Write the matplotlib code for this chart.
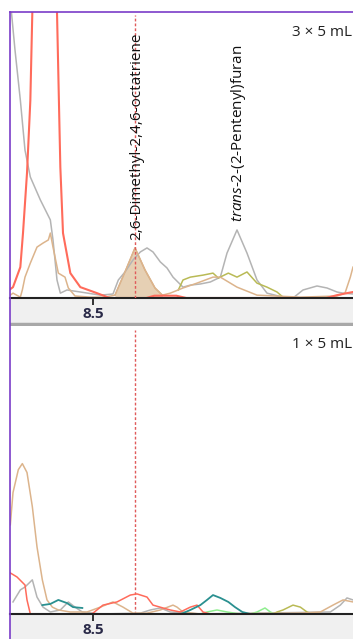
import numpy as np
import matplotlib
matplotlib.use("Agg")
import matplotlib.pyplot as plt
from matplotlib.lines import Line2D

nan = np.nan

# ---- top panel: 3 x 5 mL (retention time in min, relative abundance %) ----
top_red_t = [8.376, 8.380, 8.391, 8.395, 8.401, 8.406, 8.409, 8.420, 8.432, 8.440, 8.446, 8.451,
             8.455, 8.466, 8.481, 8.506, 8.525, 8.580, 8.592, 8.625, 8.640, 8.850, 8.866, 8.881, 8.890]
top_red_y = [3.1, 3.8, 10.8, 22.7, 43.7, 69.0, 100, 250, 300, 250, 100, 45.8,
             22.7, 8.7, 3.8, 1.7, 0.0, 0.0, 0.8, 0.8, 0.0, 0.0, 1.0, 1.7, 2.1]

top_gray_t = [8.376, 8.383, 8.391, 8.398, 8.406, 8.421, 8.436, 8.440, 8.446, 8.451, 8.461, 8.481,
              8.511, 8.530, 8.538, 8.548, 8.560, 8.571, 8.581, 8.590, 8.601, 8.611, 8.620, 8.635,
              8.646, 8.661, 8.676, 8.691, 8.701, 8.716, 8.731, 8.746, 8.761, 8.785, 8.800, 8.815,
              8.836, 8.851, 8.866, 8.875, 8.890]
top_gray_y = [104, 86.7, 69.2, 51.7, 42.3, 34.3, 27.3, 20.3, 6.3, 1.7, 2.8, 2.1,
              1.0, 1.4, 6.3, 9.1, 13.3, 16.1, 17.5, 16.1, 12.6, 10.5, 7.3, 3.8,
              4.5, 4.9, 5.6, 7.3, 15.7, 23.8, 15.7, 6.3, 1.7, 0.3, 0.0, 2.8,
              4.2, 3.5, 2.1, 1.7, 1.4]

top_tan_t = [8.376, 8.380, 8.391, 8.394, 8.398, 8.406, 8.416, 8.425, 8.433, 8.436, 8.440, 8.448,
             8.458, 8.463, 8.473, 8.496, 8.518, 8.533, 8.548, 8.563, 8.578, 8.593, 8.604, 8.616,
             8.635, 8.656, 8.680, 8.691, 8.716, 8.746, 8.811, 8.866, 8.878, 8.886, 8.890]
top_tan_y = [1.0, 1.7, 0.3, 2.8, 7.3, 12.2, 17.8, 19.2, 20.3, 22.7, 17.8, 8.7,
             7.3, 3.5, 0.7, 0.3, 0.3, 1.0, 9.1, 17.5, 9.8, 3.5, 1.0, 1.7,
             3.5, 5.2, 7.3, 7.3, 3.8, 1.0, 0.3, 0.7, 1.7, 7.3, 10.8]

top_olive_t = [8.628, 8.635, 8.646, 8.665, 8.680, 8.688, 8.703, 8.716, 8.731, 8.746, 8.761, 8.776, 8.785]
top_olive_y = [2.8, 6.3, 7.3, 8.0, 8.7, 7.0, 8.7, 7.3, 9.1, 5.2, 3.8, 2.1, 0.3]

# integrated peak window (min)
peak_start, peak_end = 8.533, 8.604

# ---- bottom panel: 1 x 5 mL ----
bot_tan_t = [8.376, 8.380, 8.388, 8.394, 8.401, 8.409, 8.416, 8.424, 8.431, 8.439, 8.448, 8.466,
             8.491, 8.511, 8.530, 8.545, 8.560, 8.581, 8.601, 8.620, 8.626, 8.635, 8.661, 8.811,
             8.841, 8.860, 8.875, 8.890]
bot_tan_y = [31.1, 42.3, 50.3, 52.4, 49.3, 37.4, 23.4, 11.9, 4.9, 2.4, 1.4, 0.7,
             0.7, 2.4, 4.2, 2.4, 0.3, 0.3, 1.4, 3.1, 2.4, 0.7, 0.0, 0.3,
             0.7, 3.1, 4.9, 4.2]

bot_red_t = [8.376, 8.386, 8.398, 8.401, 8.406, 8.496, 8.500, 8.515, 8.536, 8.556, 8.566, 8.581,
             8.590, 8.605, 8.616, 8.631, 8.646, 8.656, 8.665, 8.676, 8.890]
bot_red_y = [14.3, 12.9, 10.1, 4.9, 0.0, 0.0, 0.3, 3.1, 4.2, 6.6, 7.0, 5.9,
             3.1, 2.1, 1.4, 0.7, 2.4, 3.1, 0.7, 0.0, 0.0]

bot_gray_t = [8.380, 8.391, 8.398, 8.409, 8.416, 8.425, 8.436, 8.451, 8.463, 8.473, 8.484, 8.511,
              8.571, 8.586, 8.601, 8.616, 8.661, 8.856, 8.871, 8.881, 8.890]
bot_gray_y = [4.2, 8.4, 9.4, 11.9, 5.9, 2.4, 0.7, 1.4, 4.2, 2.4, 0.7, 0.0,
              0.3, 1.4, 2.1, 0.7, 0.0, 0.7, 3.1, 5.6, 4.9]

bot_teal_t = [8.424, 8.436, 8.448, 8.461, 8.470, 8.484, nan, 8.631, 8.635, 8.646, 8.661, 8.671,
              8.680, 8.691, 8.703, 8.713, 8.724, 8.736]
bot_teal_y = [3.1, 3.5, 4.9, 3.8, 2.4, 2.1, nan, 0.0, 0.3, 1.4, 3.1, 4.9,
              6.6, 5.6, 4.2, 2.4, 0.7, 0.0]

bot_green_t = [8.661, 8.671, 8.686, 8.701, 8.721, 8.736, 8.746, 8.758, 8.766, 8.773]
bot_green_y = [0.0, 0.7, 1.4, 0.7, 0.0, 0.0, 0.7, 2.1, 0.7, 0.0]

bot_olive_t = [8.770, 8.776, 8.785, 8.800, 8.811, 8.821, 8.829]
bot_olive_y = [0.0, 0.7, 1.4, 3.1, 2.4, 0.7, 0.0]

marker_rt = 8.563
compound_labels = ["2,6-Dimethyl-2,4,6-octatriene", r"$\it{trans}$-2-(2-Pentenyl)furan"]
compound_rt = [8.566, 8.7175]
compound_y = [20.3, 26.6]
panel_titles = ["3 \u00d7 5 mL", "1 \u00d7 5 mL"]
xticks = [8.5]
xticklabels = ["8.5"]

RED = "#ff6b5b"
GRAY = "#b4b4b4"
TAN = "#dcb48c"
OLIVE = "#b9ba55"
TEAL = "#2a9090"
LGREEN = "#8fee8f"
PURPLE = "#7a3cc8"

plt.rcParams['font.family'] = ['Open Sans', 'DejaVu Sans']
plt.rcParams['mathtext.fontset'] = 'custom'
plt.rcParams['mathtext.it'] = 'Open Sans:italic'

W, H = 353, 639
fig = plt.figure(figsize=(W / 100, H / 100), dpi=100)

def fx(px):
    return px / W

def fy(py):
    return 1 - py / H

xlim = (8.3755, 8.8900)

panels = [
    dict(top=12, base=298, band=326, title_y=33),
    dict(top=327, base=614, band=641, title_y=345),
]

axes = []
for i, p in enumerate(panels):
    # grey time-axis band below the trace area
    band = fig.add_axes([fx(10), fy(p["band"]), 1 - fx(10), (p["band"] - p["base"]) / H], zorder=0)
    band.set_facecolor("#f0f0f0")
    band.set_xticks([])
    band.set_yticks([])
    for s in band.spines.values():
        s.set_visible(False)
    if i == 0:
        band.axhline(0.06, color="#a8a8a8", lw=2.5)

    ax = fig.add_axes([fx(10), fy(p["base"]), 1 - fx(10), (p["base"] - p["top"]) / H], zorder=1)
    ax.set_xlim(*xlim)
    ax.set_ylim(0, 100)
    ax.set_yticks([])
    ax.set_xticks(xticks)
    ax.set_xticklabels(xticklabels)
    ax.tick_params(axis="x", direction="out", length=5, width=1.3, color="#222222",
                   pad=1.5, labelsize=11, labelcolor="#2a2a48")
    for lab in ax.get_xticklabels():
        lab.set_fontweight("bold")
    ax.spines["right"].set_visible(False)
    ax.spines["left"].set_visible(False)
    ax.spines["bottom"].set_color("#222222")
    ax.spines["bottom"].set_linewidth(1.5)
    if i == 0:
        ax.spines["top"].set_color(PURPLE)
        ax.spines["top"].set_linewidth(1.2)
    else:
        ax.spines["top"].set_visible(False)
    ax.text(0.997, 1 - (p["title_y"] - p["top"]) / (p["base"] - p["top"]), panel_titles[i],
            transform=ax.transAxes, ha="right", va="center", fontsize=11, color="#222222")
    axes.append(ax)

ax1, ax2 = axes
lw = 1.1
tan_t = np.array(top_tan_t)
tan_y = np.array(top_tan_y)
sel = (tan_t >= peak_start) & (tan_t <= peak_end)
ax1.fill_between(tan_t[sel], 0, tan_y[sel], color="#e6d0b4", lw=0, zorder=1)
ax1.plot(tan_t[sel], tan_y[sel], color="#d2aa80", lw=1.0, zorder=1.5)
ax1.plot(top_gray_t, top_gray_y, color=GRAY, lw=lw)
ax1.plot(top_olive_t, top_olive_y, color=OLIVE, lw=lw)
ax1.plot(top_tan_t, top_tan_y, color=TAN, lw=lw)
ax1.plot(top_red_t, top_red_y, color=RED, lw=1.5)
ax1.axvline(marker_rt, ymin=0, ymax=0.99, color="#e05a5a", lw=1.0, ls=(0, (2, 1.5)), zorder=3)
ax2.axvline(marker_rt, ymin=0, ymax=0.99, color="#e05a5a", lw=1.0, ls=(0, (2, 1.5)), zorder=1)

for lab, t, y in zip(compound_labels, compound_rt, compound_y):
    ax1.text(t, y, lab, rotation=90, ha="center", va="bottom", fontsize=11, color="#111111")

ax2.plot(bot_gray_t, bot_gray_y, color=GRAY, lw=lw)
ax2.plot(bot_green_t, bot_green_y, color=LGREEN, lw=lw)
ax2.plot(bot_olive_t, bot_olive_y, color=OLIVE, lw=lw)
ax2.plot(bot_tan_t, bot_tan_y, color=TAN, lw=lw)
ax2.plot(bot_red_t, bot_red_y, color=RED, lw=lw)
ax2.plot(bot_teal_t, bot_teal_y, color=TEAL, lw=1.3)

# purple frame on the left edge
fig.add_artist(Line2D([fx(10), fx(10)], [fy(12), 0], color=PURPLE, lw=1.2))

fig.savefig("out.png", dpi=100)
